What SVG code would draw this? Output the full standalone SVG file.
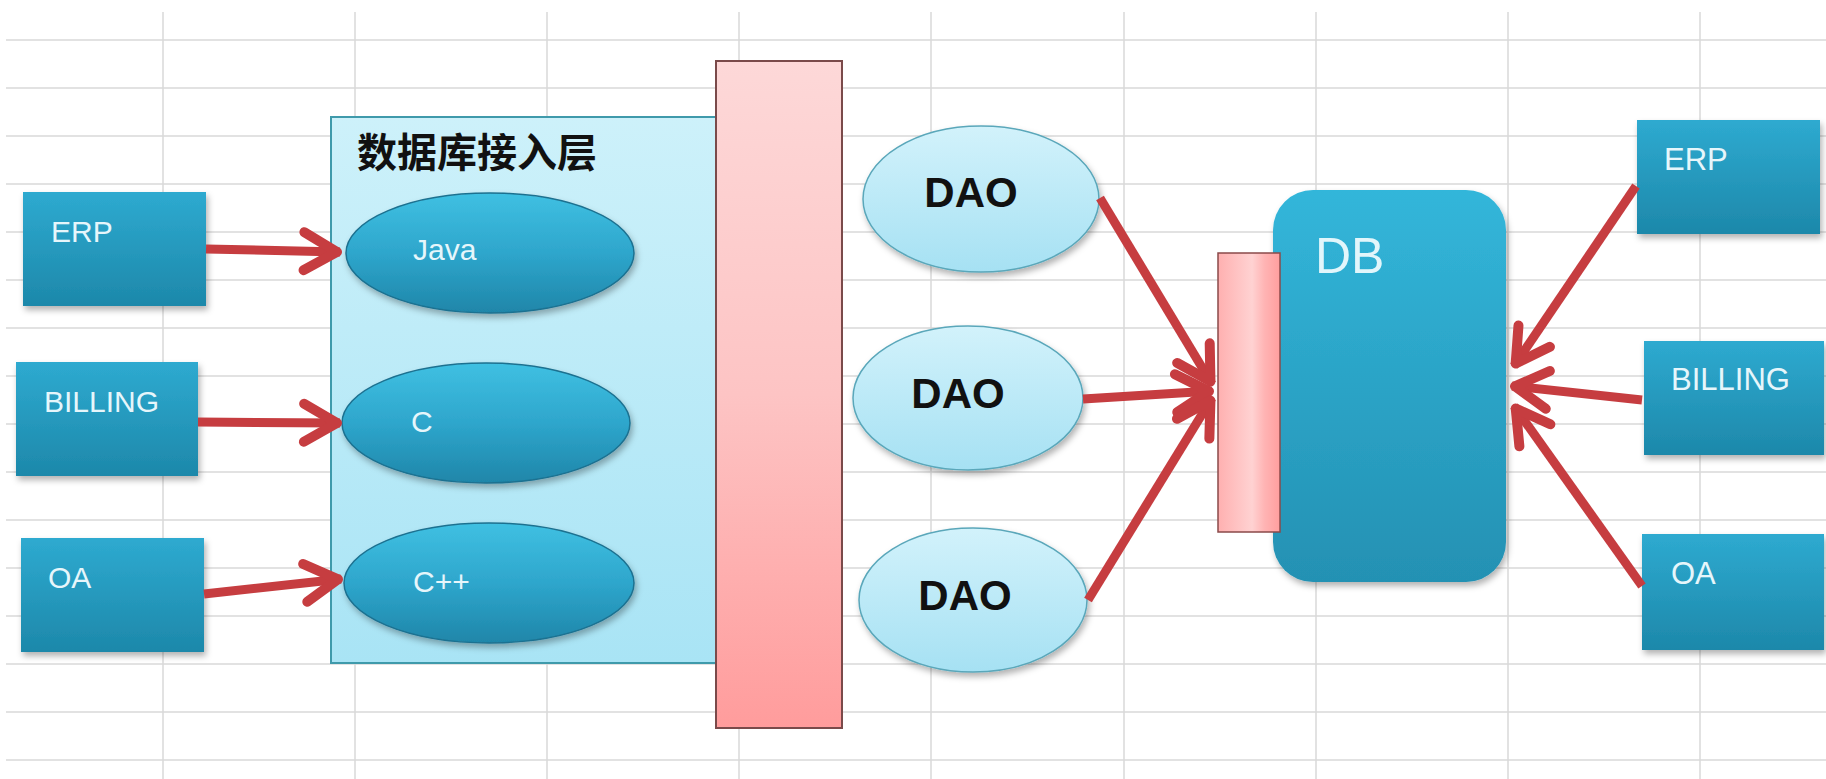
<svg xmlns="http://www.w3.org/2000/svg" width="1826" height="779" viewBox="0 0 1826 779">
<defs>
<style>
.grid line{stroke:#d9d9d9;stroke-width:1.5}
.box{fill:url(#teal);filter:url(#sh)}
.ell{fill:url(#tealE);stroke:#1c7190;stroke-width:1.5;filter:url(#sh)}
.dao{fill:url(#lblue);stroke:#5aa7ba;stroke-width:1.5;filter:url(#sh)}
.lt{font-family:"Liberation Sans",Arial,sans-serif;fill:#e6f6fb;font-size:30px}
.dt{font-family:"Liberation Sans",Arial,sans-serif;font-weight:bold;fill:#111;font-size:42px;text-anchor:middle}
.conn line{stroke:#c63d40;stroke-width:9;marker-end:url(#ah)}
</style>
<linearGradient id="teal" x1="0" y1="0" x2="0" y2="1">
<stop offset="0" stop-color="#2eaad0"/><stop offset="1" stop-color="#1d88aa"/>
</linearGradient>
<linearGradient id="tealE" x1="0" y1="0" x2="0" y2="1">
<stop offset="0" stop-color="#3fc0e2"/><stop offset="0.5" stop-color="#2ea6cc"/><stop offset="1" stop-color="#1f86a9"/>
</linearGradient>
<linearGradient id="db" x1="0" y1="0" x2="0" y2="1">
<stop offset="0" stop-color="#32b6da"/><stop offset="1" stop-color="#2491b3"/>
</linearGradient>
<linearGradient id="lblue" x1="0" y1="0" x2="0" y2="1">
<stop offset="0" stop-color="#d2f2fb"/><stop offset="1" stop-color="#a6e1f3"/>
</linearGradient>
<linearGradient id="cont" x1="0" y1="0" x2="0" y2="1">
<stop offset="0" stop-color="#cdf1fa"/><stop offset="1" stop-color="#a9e4f5"/>
</linearGradient>
<linearGradient id="pink" x1="0" y1="0" x2="0" y2="1">
<stop offset="0" stop-color="#fdd8d8"/><stop offset="0.5" stop-color="#fdc4c4"/><stop offset="1" stop-color="#ff9c9c"/>
</linearGradient>
<linearGradient id="pink2" x1="0" y1="0" x2="1" y2="0">
<stop offset="0" stop-color="#ffb0b0"/><stop offset="0.55" stop-color="#ffd2d2"/><stop offset="0.75" stop-color="#ffb4b4"/><stop offset="1" stop-color="#ff9e9e"/>
</linearGradient>
<filter id="sh" x="-10%" y="-10%" width="125%" height="130%">
<feDropShadow dx="2" dy="4" stdDeviation="3" flood-color="#000" flood-opacity="0.3"/>
</filter>
<marker id="ah" viewBox="-50 -30 60 60" markerWidth="60" markerHeight="60" refX="0" refY="0" orient="auto" markerUnits="userSpaceOnUse">
<path d="M-36,-19 L-3,0 L-36,19" fill="none" stroke="#c63d40" stroke-width="10" stroke-linecap="round" stroke-linejoin="round"/>
</marker>
</defs>
<rect width="1826" height="779" fill="#ffffff"/>
<g class="grid">
<line x1="163" y1="12" x2="163" y2="779"/><line x1="355" y1="12" x2="355" y2="779"/><line x1="547" y1="12" x2="547" y2="779"/>
<line x1="739" y1="12" x2="739" y2="779"/><line x1="931" y1="12" x2="931" y2="779"/><line x1="1124" y1="12" x2="1124" y2="779"/>
<line x1="1316" y1="12" x2="1316" y2="779"/><line x1="1508" y1="12" x2="1508" y2="779"/><line x1="1700" y1="12" x2="1700" y2="779"/>
<line x1="6" y1="40" x2="1826" y2="40"/><line x1="6" y1="88" x2="1826" y2="88"/><line x1="6" y1="136" x2="1826" y2="136"/>
<line x1="6" y1="184" x2="1826" y2="184"/><line x1="6" y1="232" x2="1826" y2="232"/><line x1="6" y1="280" x2="1826" y2="280"/>
<line x1="6" y1="328" x2="1826" y2="328"/><line x1="6" y1="376" x2="1826" y2="376"/><line x1="6" y1="424" x2="1826" y2="424"/>
<line x1="6" y1="472" x2="1826" y2="472"/><line x1="6" y1="520" x2="1826" y2="520"/><line x1="6" y1="568" x2="1826" y2="568"/>
<line x1="6" y1="616" x2="1826" y2="616"/><line x1="6" y1="664" x2="1826" y2="664"/><line x1="6" y1="712" x2="1826" y2="712"/>
<line x1="6" y1="760" x2="1826" y2="760"/>
</g>
<g id="access-layer">
<rect x="331" y="117" width="390" height="546" fill="url(#cont)" stroke="#3f9aab" stroke-width="2"/>
<text x="357" y="167" font-family="'Noto Sans CJK SC',sans-serif" font-weight="bold" font-size="40" fill="#111">数据库接入层</text>
</g>
<g id="java"><ellipse cx="490" cy="253" rx="144" ry="60" class="ell"/><text x="413" y="260" class="lt">Java</text></g>
<g id="c"><ellipse cx="486" cy="423" rx="144" ry="60" class="ell"/><text x="411" y="432" class="lt">C</text></g>
<g id="cpp"><ellipse cx="489" cy="583" rx="145" ry="60" class="ell"/><text x="413" y="592" class="lt">C++</text></g>
<g id="erp-l"><rect x="23" y="192" width="183" height="114" class="box"/><text x="51" y="242" class="lt">ERP</text></g>
<g id="billing-l"><rect x="16" y="362" width="182" height="114" class="box"/><text x="44" y="412" class="lt">BILLING</text></g>
<g id="oa-l"><rect x="21" y="538" width="183" height="114" class="box"/><text x="48" y="588" class="lt">OA</text></g>
<g id="bar"><rect x="716" y="61" width="126" height="667" fill="url(#pink)" stroke="#7a4a4a" stroke-width="2"/></g>
<g id="dao1"><ellipse cx="981" cy="199" rx="118" ry="73" class="dao"/><text x="971" y="207" class="dt">DAO</text></g>
<g id="dao2"><ellipse cx="968" cy="398" rx="115" ry="72" class="dao"/><text x="958" y="408" class="dt">DAO</text></g>
<g id="dao3"><ellipse cx="973" cy="600" rx="114" ry="72" class="dao"/><text x="965" y="610" class="dt">DAO</text></g>
<g id="db"><rect x="1273" y="190" width="233" height="392" rx="40" fill="url(#db)" filter="url(#sh)"/><text x="1315" y="273" font-family="'Liberation Sans',Arial,sans-serif" font-size="50" fill="#e2f6fb">DB</text></g>
<g id="db-bar"><rect x="1218" y="253" width="62" height="279" fill="url(#pink2)" stroke="#8a4a4a" stroke-width="1.5"/></g>
<g id="erp-r"><rect x="1637" y="120" width="183" height="114" class="box"/><text x="1664" y="170" class="lt" style="font-size:31px">ERP</text></g>
<g id="billing-r"><rect x="1644" y="341" width="180" height="114" class="box"/><text x="1671" y="390" class="lt" style="font-size:31px">BILLING</text></g>
<g id="oa-r"><rect x="1642" y="534" width="182" height="116" class="box"/><text x="1671" y="584" class="lt" style="font-size:31px">OA</text></g>
<g class="conn" id="connectors">
<line x1="206" y1="249" x2="340" y2="252"/>
<line x1="198" y1="422" x2="340" y2="423"/>
<line x1="204" y1="594" x2="341" y2="579"/>
<line x1="1100" y1="198" x2="1212" y2="384"/>
<line x1="1083" y1="399" x2="1212" y2="391"/>
<line x1="1088" y1="600" x2="1212" y2="398"/>
<line x1="1636" y1="186" x2="1514" y2="366"/>
<line x1="1642" y1="400" x2="1512" y2="386"/>
<line x1="1642" y1="586" x2="1514" y2="406"/>
</g>
</svg>
